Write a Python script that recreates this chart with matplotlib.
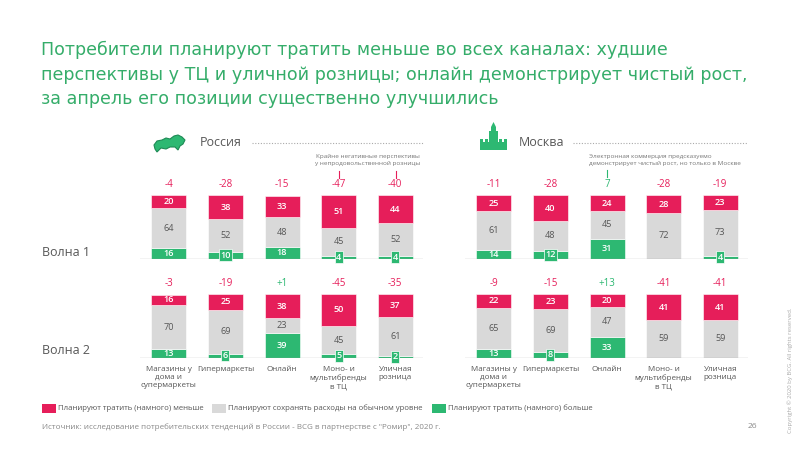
import numpy as np
import matplotlib
matplotlib.use("Agg")
import matplotlib.pyplot as plt
from matplotlib.patches import Polygon, Rectangle

plt.rcParams['font.family'] = ['Open Sans', 'DejaVu Sans']

# ─── Данные ────────────────────────────────────────────────────────────────────

categories = ['Магазины у\nдома и\nсупермаркеты', 'Гипермаркеты', 'Онлайн',
              'Моно- и\nмультибренды\nв ТЦ', 'Уличная\nрозница']

rus_w1_less = [20, 38, 33, 51, 44]
rus_w1_same = [64, 52, 48, 45, 52]
rus_w1_more = [16, 10, 18, 4, 4]
rus_w1_net = ['-4', '-28', '-15', '-47', '-40']

rus_w2_less = [16, 25, 38, 50, 37]
rus_w2_same = [70, 69, 23, 45, 61]
rus_w2_more = [13, 6, 39, 5, 2]
rus_w2_net = ['-3', '-19', '+1', '-45', '-35']

msk_w1_less = [25, 40, 24, 28, 23]
msk_w1_same = [61, 48, 45, 72, 73]
msk_w1_more = [14, 12, 31, 0, 4]
msk_w1_net = ['-11', '-28', '7', '-28', '-19']

msk_w2_less = [22, 23, 20, 41, 41]
msk_w2_same = [65, 69, 47, 59, 59]
msk_w2_more = [13, 8, 33, 0, 0]
msk_w2_net = ['-9', '-15', '+13', '-41', '-41']

legend_labels = ['Планируют тратить (намного) меньше',
                 'Планируют сохранять расходы на обычном уровне',
                 'Планируют тратить (намного) больше']

RED = '#E61E5A'
GREY = '#D9D9D9'
GREEN = '#2DB872'
TITLE_GREEN = '#35AD6A'
TXT = '#575757'

W, H = 800, 450
fig = plt.figure(figsize=(8, 4.5), dpi=100)


def px_axes(x0, y_top, w, h):
    return fig.add_axes([x0 / W, 1 - (y_top + h) / H, w / W, h / H])


def fx(px):
    return px / W


def fy(py):
    return 1 - py / H


def draw_panel(ax, less, same, more, net, show_cats):
    x = np.arange(len(less))
    more = np.array(more)
    same = np.array(same)
    less = np.array(less)
    bw = 0.62
    ax.bar(x, more, bw, color=GREEN, edgecolor='white', lw=0.4)
    ax.bar(x, same, bw, bottom=more, color=GREY, edgecolor='white', lw=0.4)
    ax.bar(x, less, bw, bottom=more + same, color=RED, edgecolor='white', lw=0.4)
    ax.axhline(0, color='#A0A0A0', lw=0.9)
    for i in range(len(x)):
        ax.text(x[i], more[i] + same[i] + less[i] / 2, str(less[i]),
                ha='center', va='center', color='white', fontsize=6.6,
                fontweight='semibold')
        ax.text(x[i], more[i] + same[i] / 2, str(same[i]),
                ha='center', va='center', color=TXT, fontsize=6.6)
        if more[i] > 12:
            ax.text(x[i], more[i] / 2, str(more[i]),
                    ha='center', va='center', color='white', fontsize=6.6,
                    fontweight='semibold')
        elif more[i] > 0:
            ax.text(x[i], max(more[i] / 2, 1), str(more[i]),
                    ha='center', va='center', color='white', fontsize=6.6,
                    fontweight='semibold',
                    bbox=dict(boxstyle='square,pad=0.15', fc=GREEN,
                              ec='white', lw=0.5))
        col = GREEN if not net[i].startswith('-') else RED
        ax.text(x[i], 117, net[i], ha='center', va='center', color=col,
                fontsize=7)
        if show_cats:
            ax.text(x[i], -13, categories[i], ha='center', va='top',
                    color=TXT, fontsize=5.8, linespacing=1.25)
    ax.set_xlim(-0.51, 4.49)
    ax.set_ylim(0, 100)
    ax.axis('off')


ax1 = px_axes(140, 195.5, 283, 63)
draw_panel(ax1, rus_w1_less, rus_w1_same, rus_w1_more, rus_w1_net, False)
ax2 = px_axes(140, 294, 283, 63.5)
draw_panel(ax2, rus_w2_less, rus_w2_same, rus_w2_more, rus_w2_net, True)
ax3 = px_axes(465, 195.5, 283, 63)
draw_panel(ax3, msk_w1_less, msk_w1_same, msk_w1_more, msk_w1_net, False)
ax4 = px_axes(465, 294, 283, 63.5)
draw_panel(ax4, msk_w2_less, msk_w2_same, msk_w2_more, msk_w2_net, True)

# ─── Заголовок ─────────────────────────────────────────────────────────────────

title = ('Потребители планируют тратить меньше во всех каналах: худшие\n'
         'перспективы у ТЦ и уличной розницы; онлайн демонстрирует чистый рост,\n'
         'за апрель его позиции существенно улучшились')
fig.text(fx(41), fy(41), title, ha='left', va='top', color=TITLE_GREEN,
         fontsize=12.6, linespacing=1.45, family='DejaVu Sans')

# ─── Заголовки блоков ──────────────────────────────────────────────────────────

fig.text(fx(200), fy(143), 'Россия', ha='left', va='center', color=TXT, fontsize=9)
fig.add_artist(plt.Line2D([fx(252), fx(423)], [fy(143), fy(143)],
                          color='#AAAAAA', lw=0.8, ls=(0, (1, 1.5))))
fig.text(fx(519), fy(143), 'Москва', ha='left', va='center', color=TXT, fontsize=9)
fig.add_artist(plt.Line2D([fx(573), fx(748)], [fy(143), fy(143)],
                          color='#AAAAAA', lw=0.8, ls=(0, (1, 1.5))))

# иконка: карта России
russia = [(154, 145), (157, 141), (162, 140), (166, 138), (170, 139), (174, 136),
          (178, 135), (182, 137), (185, 140), (183, 144), (180, 146), (178, 150),
          (175, 147), (170, 147), (166, 149), (161, 148), (157, 152), (155, 149)]
fig.add_artist(Polygon([(fx(a), fy(b)) for a, b in russia], closed=True,
                       fc=GREEN, ec='#1E8A55', lw=0.8, transform=fig.transFigure))

# иконка: Кремль
kremlin = [(480, 142, 27, 8), (480, 139, 3, 3), (485, 139, 3, 3), (499, 139, 3, 3),
           (504, 139, 3, 3), (489, 131, 9, 19), (491, 127, 5, 4)]
for a, b, w, h in kremlin:
    fig.add_artist(Rectangle((fx(a), fy(b + h)), w / W, h / H, fc=GREEN,
                             ec='none', transform=fig.transFigure))
fig.add_artist(Polygon([(fx(491), fy(127)), (fx(496), fy(127)), (fx(493.5), fy(122))],
                       closed=True, fc=GREEN, ec='none', transform=fig.transFigure))

# ─── Аннотации ─────────────────────────────────────────────────────────────────

fig.text(fx(368), fy(160), 'Крайне негативные перспективы\nу непродовольственной розницы',
         ha='center', va='center', color='#777777', fontsize=4.6, linespacing=1.3)
for xp in (339, 396):
    fig.add_artist(plt.Line2D([fx(xp), fx(xp)], [fy(171), fy(178)],
                              color=RED, lw=0.8))
fig.text(fx(589), fy(160), 'Электронная коммерция предсказуемо\n'
         'демонстрирует чистый рост, но только в Москве',
         ha='left', va='center', color='#777777', fontsize=4.6, linespacing=1.3)
fig.add_artist(plt.Line2D([fx(607), fx(607)], [fy(170), fy(177)],
                          color=GREEN, lw=0.8))

fig.text(fx(42), fy(252), 'Волна 1', ha='left', va='center', color=TXT, fontsize=9)
fig.text(fx(42), fy(350), 'Волна 2', ha='left', va='center', color=TXT, fontsize=9)

# ─── Легенда и подвал ──────────────────────────────────────────────────────────

for xp, col, lab in zip((42, 212, 432), (RED, GREY, GREEN), legend_labels):
    fig.add_artist(Rectangle((fx(xp), fy(413)), 14 / W, 9 / H, fc=col, ec='none',
                             transform=fig.transFigure))
    fig.text(fx(xp + 16), fy(408.5), lab, ha='left', va='center', color=TXT,
             fontsize=5.6)

fig.text(fx(42), fy(427), 'Источник: исследование потребительских тенденций в России - '
         'BCG в партнерстве с "Ромир", 2020 г.', ha='left', va='center',
         color='#888888', fontsize=5.8)
fig.text(fx(752), fy(426), '26', ha='center', va='center', color='#888888', fontsize=6)
fig.text(fx(790), fy(370), 'Copyright © 2020 by BCG. All rights reserved.',
         ha='center', va='center', rotation=90, color='#AAAAAA', fontsize=4.3)

fig.savefig('out.png', dpi=100)
